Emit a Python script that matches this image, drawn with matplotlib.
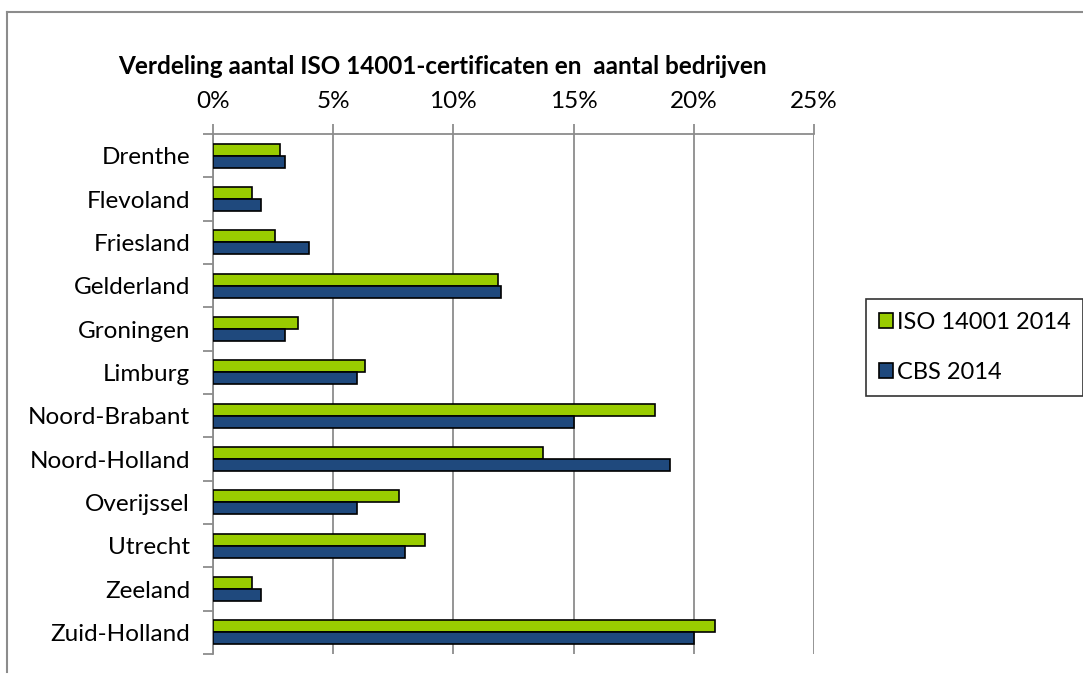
import matplotlib.pyplot as plt
import numpy as np
from matplotlib.lines import Line2D
from matplotlib.ticker import FuncFormatter, FixedLocator

plt.rcParams['font.family'] = ['Lato', 'DejaVu Sans']

provinces = ['Drenthe', 'Flevoland', 'Friesland', 'Gelderland', 'Groningen',
             'Limburg', 'Noord-Brabant', 'Noord-Holland', 'Overijssel',
             'Utrecht', 'Zeeland', 'Zuid-Holland']
iso_2014 = [2.80, 1.64, 2.58, 11.86, 3.55, 6.33, 18.37, 13.71, 7.72, 8.80, 1.64, 20.88]
cbs_2014 = [2.98, 1.98, 4.00, 12.00, 3.00, 5.97, 15.00, 19.01, 5.97, 7.97, 1.98, 20.00]
x_ticks = [0, 5, 10, 15, 20, 25]

W, H = 1083, 675
fig = plt.figure(figsize=(W / 100, H / 100), dpi=100)
ax = fig.add_axes([213 / W, 1 - 654 / H, (814 - 213) / W, (654 - 134) / H])

y = np.arange(len(provinces))
bh = 0.28
ax.barh(y - bh / 2, iso_2014, height=bh, color='#99CC00', edgecolor='black',
        linewidth=1.2, label='ISO 14001 2014', zorder=3)
ax.barh(y + bh / 2, cbs_2014, height=bh, color='#1F497D', edgecolor='black',
        linewidth=1.2, label='CBS 2014', zorder=3)

ax.set_xlim(0, 25)
ax.set_ylim(len(provinces) - 0.5, -0.5)

grey = '#8c8c8c'
ax.xaxis.tick_top()
ax.set_xticks(x_ticks)
ax.xaxis.set_major_formatter(FuncFormatter(lambda v, p: f'{v:.0f}%'))
ax.grid(axis='x', color=grey, linewidth=1.3, zorder=0)
ax.tick_params(axis='x', which='major', length=7, width=1.3, color=grey,
               labelsize=17.5, pad=9)

ax.set_yticks(y)
ax.set_yticklabels(provinces)
ax.yaxis.set_minor_locator(FixedLocator(np.arange(-0.5, len(provinces), 1)))
ax.tick_params(axis='y', which='major', length=0, labelsize=17.5, pad=16.5)
ax.tick_params(axis='y', which='minor', length=7, width=1.3, color=grey)

for side in ['right', 'bottom']:
    ax.spines[side].set_visible(False)
for side in ['left', 'top']:
    ax.spines[side].set_color(grey)
    ax.spines[side].set_linewidth(1.3)

fig.text(442 / W, 1 - 74 / H,
         'Verdeling aantal ISO 14001-certificaten en  aantal bedrijven',
         ha='center', va='baseline', fontsize=17.5, fontweight='bold')

leg = ax.legend(loc='upper left', bbox_to_anchor=(866 / W, 1 - 299 / H),
                bbox_transform=fig.transFigure, fontsize=17, frameon=True,
                fancybox=False, edgecolor='black', handlelength=0.6,
                handleheight=0.6, handletextpad=0.15, labelspacing=1.23,
                borderpad=0.55, borderaxespad=0)
leg.get_frame().set_linewidth(1.2)

# outer chart border
fig.add_artist(Line2D([7 / W, 1], [1 - 12 / H, 1 - 12 / H], color=grey, linewidth=1.5))
fig.add_artist(Line2D([7 / W, 7 / W], [1 - 12 / H, 1 - 672 / H], color=grey, linewidth=1.5))

fig.savefig('out.png', dpi=100)
